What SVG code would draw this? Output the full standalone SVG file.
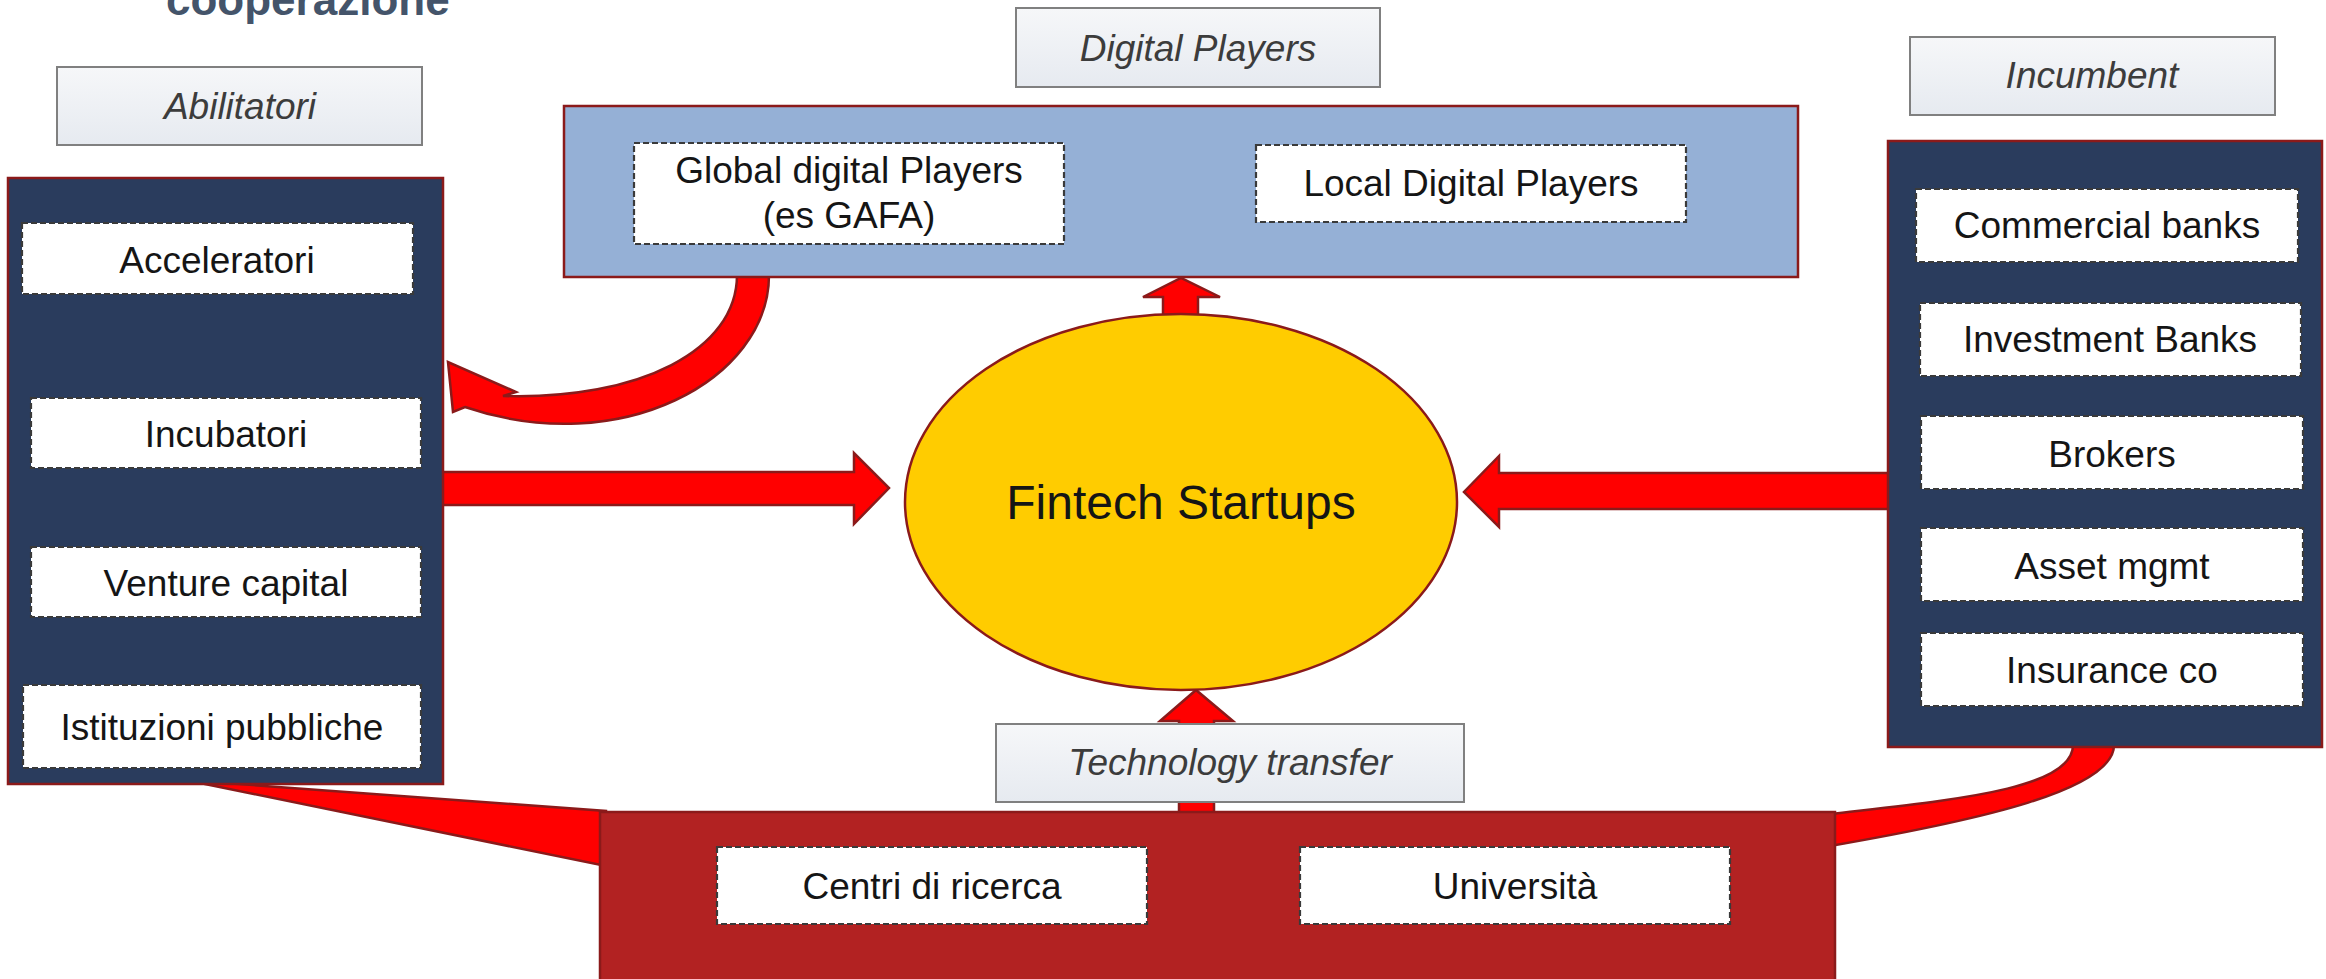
<svg xmlns="http://www.w3.org/2000/svg" width="2326" height="979" viewBox="0 0 2326 979">
<defs>
<linearGradient id="lblGrad" x1="0" y1="0" x2="0" y2="1">
<stop offset="0" stop-color="#F6F7F9"/>
<stop offset="1" stop-color="#E6EAF0"/>
</linearGradient>
</defs>
<style>
.t{font-family:"Liberation Sans",Arial,sans-serif;font-size:37px;fill:#151515;text-anchor:middle}
.lt{font-family:"Liberation Sans",Arial,sans-serif;font-size:37px;font-style:italic;fill:#3C3C3C;text-anchor:middle}
.lbl{fill:url(#lblGrad);stroke:#808080;stroke-width:2}
.item{fill:#FFFFFF;stroke:#3A3A3A;stroke-width:2.2;stroke-dasharray:6 3}
.dark{fill:#2A3C5D;stroke:#8B1A1A;stroke-width:2.5}
.arr{fill:#FF0000;stroke:#8B1A1A;stroke-width:2.5;stroke-linejoin:miter}
</style>
<rect width="2326" height="979" fill="#FFFFFF"/>
<text x="166" y="15" font-family="'Liberation Sans',Arial,sans-serif" font-size="44" font-weight="bold" fill="#44546A">cooperazione</text>

<g id="connectors">
<path class="arr" d="M737,275 C737,350 640,400 503,396 L516,392 L448,362 L453,412 L465,407 C620,460 769,380 769,275 Z"/>
<polygon class="arr" points="200,783 225,783 606,811 606,866"/>
<path class="arr" d="M2073,745 C2073,790 1950,800 1830,814 L1830,846 C1980,820 2114,790 2114,745 Z"/>
<polygon class="arr" points="440,472 854,472 854,453 889,488 854,524 854,505 440,505"/>
<polygon class="arr" points="1892,473 1499,473 1499,456 1464,492 1499,527 1499,509 1892,509"/>
<polygon class="arr" points="1163,320 1163,297 1143,297 1181,278 1220,297 1198,297 1198,320"/>
<polygon class="arr" points="1179,816 1179,721 1160,721 1196,690 1233,721 1214,721 1214,816"/>
</g>

<g id="fintech">
<ellipse cx="1181" cy="502" rx="276" ry="188" fill="#FFCC00" stroke="#8B1A1A" stroke-width="2.5"/>
<text x="1181" y="519" class="t" font-size="48" style="font-size:48px">Fintech Startups</text>
</g>

<g id="abilitatori-label">
<rect class="lbl" x="57" y="67" width="365" height="78"/>
<text class="lt" x="240" y="119">Abilitatori</text>
</g>

<g id="abilitatori">
<rect class="dark" x="8" y="178" width="435" height="606"/>
<rect class="item" x="22" y="223" width="391" height="71"/>
<text class="t" x="217" y="273">Acceleratori</text>
<rect class="item" x="31" y="398" width="390" height="70"/>
<text class="t" x="226" y="447">Incubatori</text>
<rect class="item" x="31" y="547" width="390" height="70"/>
<text class="t" x="226" y="596">Venture capital</text>
<rect class="item" x="23" y="685" width="398" height="83"/>
<text class="t" x="222" y="740">Istituzioni pubbliche</text>
</g>

<g id="digital-label">
<rect class="lbl" x="1016" y="8" width="364" height="79"/>
<text class="lt" x="1198" y="61">Digital Players</text>
</g>

<g id="digital">
<rect x="564" y="106" width="1234" height="171" fill="#95B0D6" stroke="#8B1A1A" stroke-width="2.5"/>
<rect class="item" x="634" y="143" width="430" height="101"/>
<text class="t" x="849" y="183">Global digital Players</text>
<text class="t" x="849" y="228">(es GAFA)</text>
<rect class="item" x="1256" y="145" width="430" height="77"/>
<text class="t" x="1471" y="196">Local Digital Players</text>
</g>

<g id="incumbent-label">
<rect class="lbl" x="1910" y="37" width="365" height="78"/>
<text class="lt" x="2092" y="88">Incumbent</text>
</g>

<g id="incumbent">
<rect class="dark" x="1888" y="141" width="434" height="606"/>
<rect class="item" x="1916" y="189" width="382" height="73"/>
<text class="t" x="2107" y="238">Commercial banks</text>
<rect class="item" x="1920" y="303" width="381" height="73"/>
<text class="t" x="2110" y="352">Investment Banks</text>
<rect class="item" x="1921" y="416" width="382" height="73"/>
<text class="t" x="2112" y="467">Brokers</text>
<rect class="item" x="1921" y="528" width="382" height="73"/>
<text class="t" x="2112" y="579">Asset mgmt</text>
<rect class="item" x="1921" y="633" width="382" height="73"/>
<text class="t" x="2112" y="683">Insurance co</text>
</g>

<g id="tech-label">
<rect class="lbl" x="996" y="724" width="468" height="78"/>
<text class="lt" x="1230" y="775">Technology transfer</text>
</g>

<g id="tech">
<rect x="600" y="812" width="1235" height="180" fill="#B22222" stroke="#8B1A1A" stroke-width="2.5"/>
<rect class="item" x="717" y="847" width="430" height="77"/>
<text class="t" x="932" y="899">Centri di ricerca</text>
<rect class="item" x="1300" y="847" width="430" height="77"/>
<text class="t" x="1515" y="899">Università</text>
</g>
</svg>
